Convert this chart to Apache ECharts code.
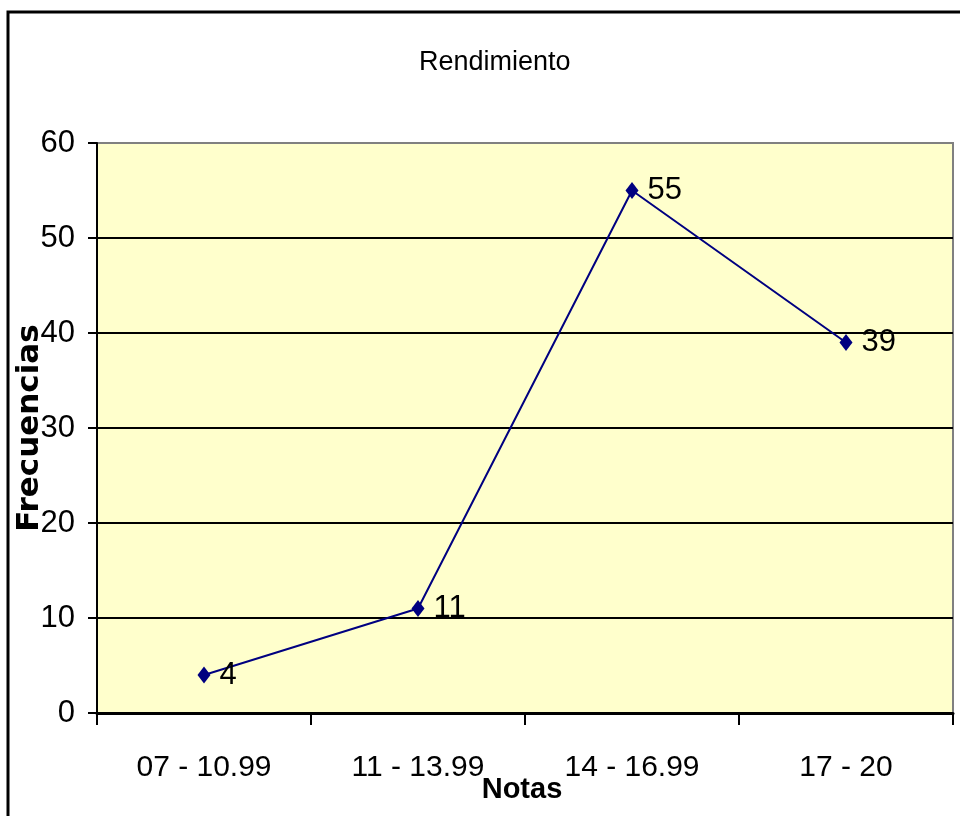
<!DOCTYPE html>
<html>
<head>
<meta charset="utf-8">
<title>Rendimiento</title>
<script src="https://cdn.jsdelivr.net/npm/echarts@6/dist/echarts.min.js"></script>
<style>
  html, body { margin: 0; padding: 0; background: #ffffff; }
  #chart { width: 960px; height: 816px; }
</style>
</head>
<body>
<div id="chart"></div>
<script>
// Grade ranges and how many students fall in each
const categories = ['07 - 10.99', '11 - 13.99', '14 - 16.99', '17 - 20'];
const frequencies = [4, 11, 55, 39];

const chartTitle = 'Rendimiento';
const xAxisName = 'Notas';
const yAxisName = 'Frecuencias';

const sans = '"Liberation Sans", Arial, sans-serif';

const chart = echarts.init(document.getElementById('chart'), null, { renderer: 'canvas' });

chart.setOption({
  backgroundColor: '#ffffff',
  animation: false,
  title: {
    text: chartTitle,
    left: 414,
    top: 44,
    textStyle: { fontFamily: sans, fontSize: 27, fontWeight: 'normal', color: '#000' }
  },
  graphic: [{
    // outer frame of the chart area
    type: 'rect',
    shape: { x: 8, y: 12, width: 980, height: 840 },
    style: { fill: 'none', stroke: '#000', lineWidth: 3 },
    silent: true,
    z: 100
  }],
  grid: {
    left: 97,
    top: 143,
    width: 856,
    height: 570,
    containLabel: false,
    outerBoundsMode: 'none',
    show: true,
    backgroundColor: '#FFFFCC',
    borderColor: '#808080',
    borderWidth: 2
  },
  xAxis: {
    type: 'category',
    data: categories,
    boundaryGap: true,
    name: xAxisName,
    nameLocation: 'middle',
    nameGap: 62,
    nameMoveOverlap: false,
    nameTextStyle: { fontFamily: sans, fontSize: 29, fontWeight: 'bold', color: '#000', padding: [0, 6, 0, 0] },
    axisLine: { lineStyle: { color: '#000', width: 3 } },
    axisTick: { show: true, length: 12, alignWithLabel: false, lineStyle: { color: '#000', width: 2 } },
    axisLabel: { margin: 40, fontFamily: sans, fontSize: 30, color: '#000' },
    splitLine: { show: false }
  },
  yAxis: {
    type: 'value',
    min: 0,
    max: 60,
    interval: 10,
    name: yAxisName,
    nameLocation: 'middle',
    nameGap: 52,
    nameMoveOverlap: false,
    nameRotate: 90,
    nameTextStyle: { fontFamily: '"DejaVu Sans", sans-serif', fontSize: 31, fontWeight: 'bold', color: '#000' },
    axisLine: { show: true, lineStyle: { color: '#000', width: 2 } },
    axisTick: { show: true, length: 9, lineStyle: { color: '#000', width: 2 } },
    axisLabel: { margin: 22, fontFamily: sans, fontSize: 31, color: '#000' },
    splitLine: {
      show: true,
      lineStyle: { color: ['#000', '#000', '#000', '#000', '#000', '#000', '#808080'], width: 2 }
    }
  },
  series: [{
    type: 'line',
    data: frequencies,
    symbol: 'diamond',
    symbolSize: [13, 17],
    showAllSymbol: true,
    itemStyle: { color: '#000080' },
    lineStyle: { color: '#000080', width: 2 },
    label: {
      show: true,
      position: 'right',
      distance: 9,
      fontFamily: sans,
      fontSize: 31,
      color: '#000'
    },
    z: 5
  }]
});
</script>
</body>
</html>
